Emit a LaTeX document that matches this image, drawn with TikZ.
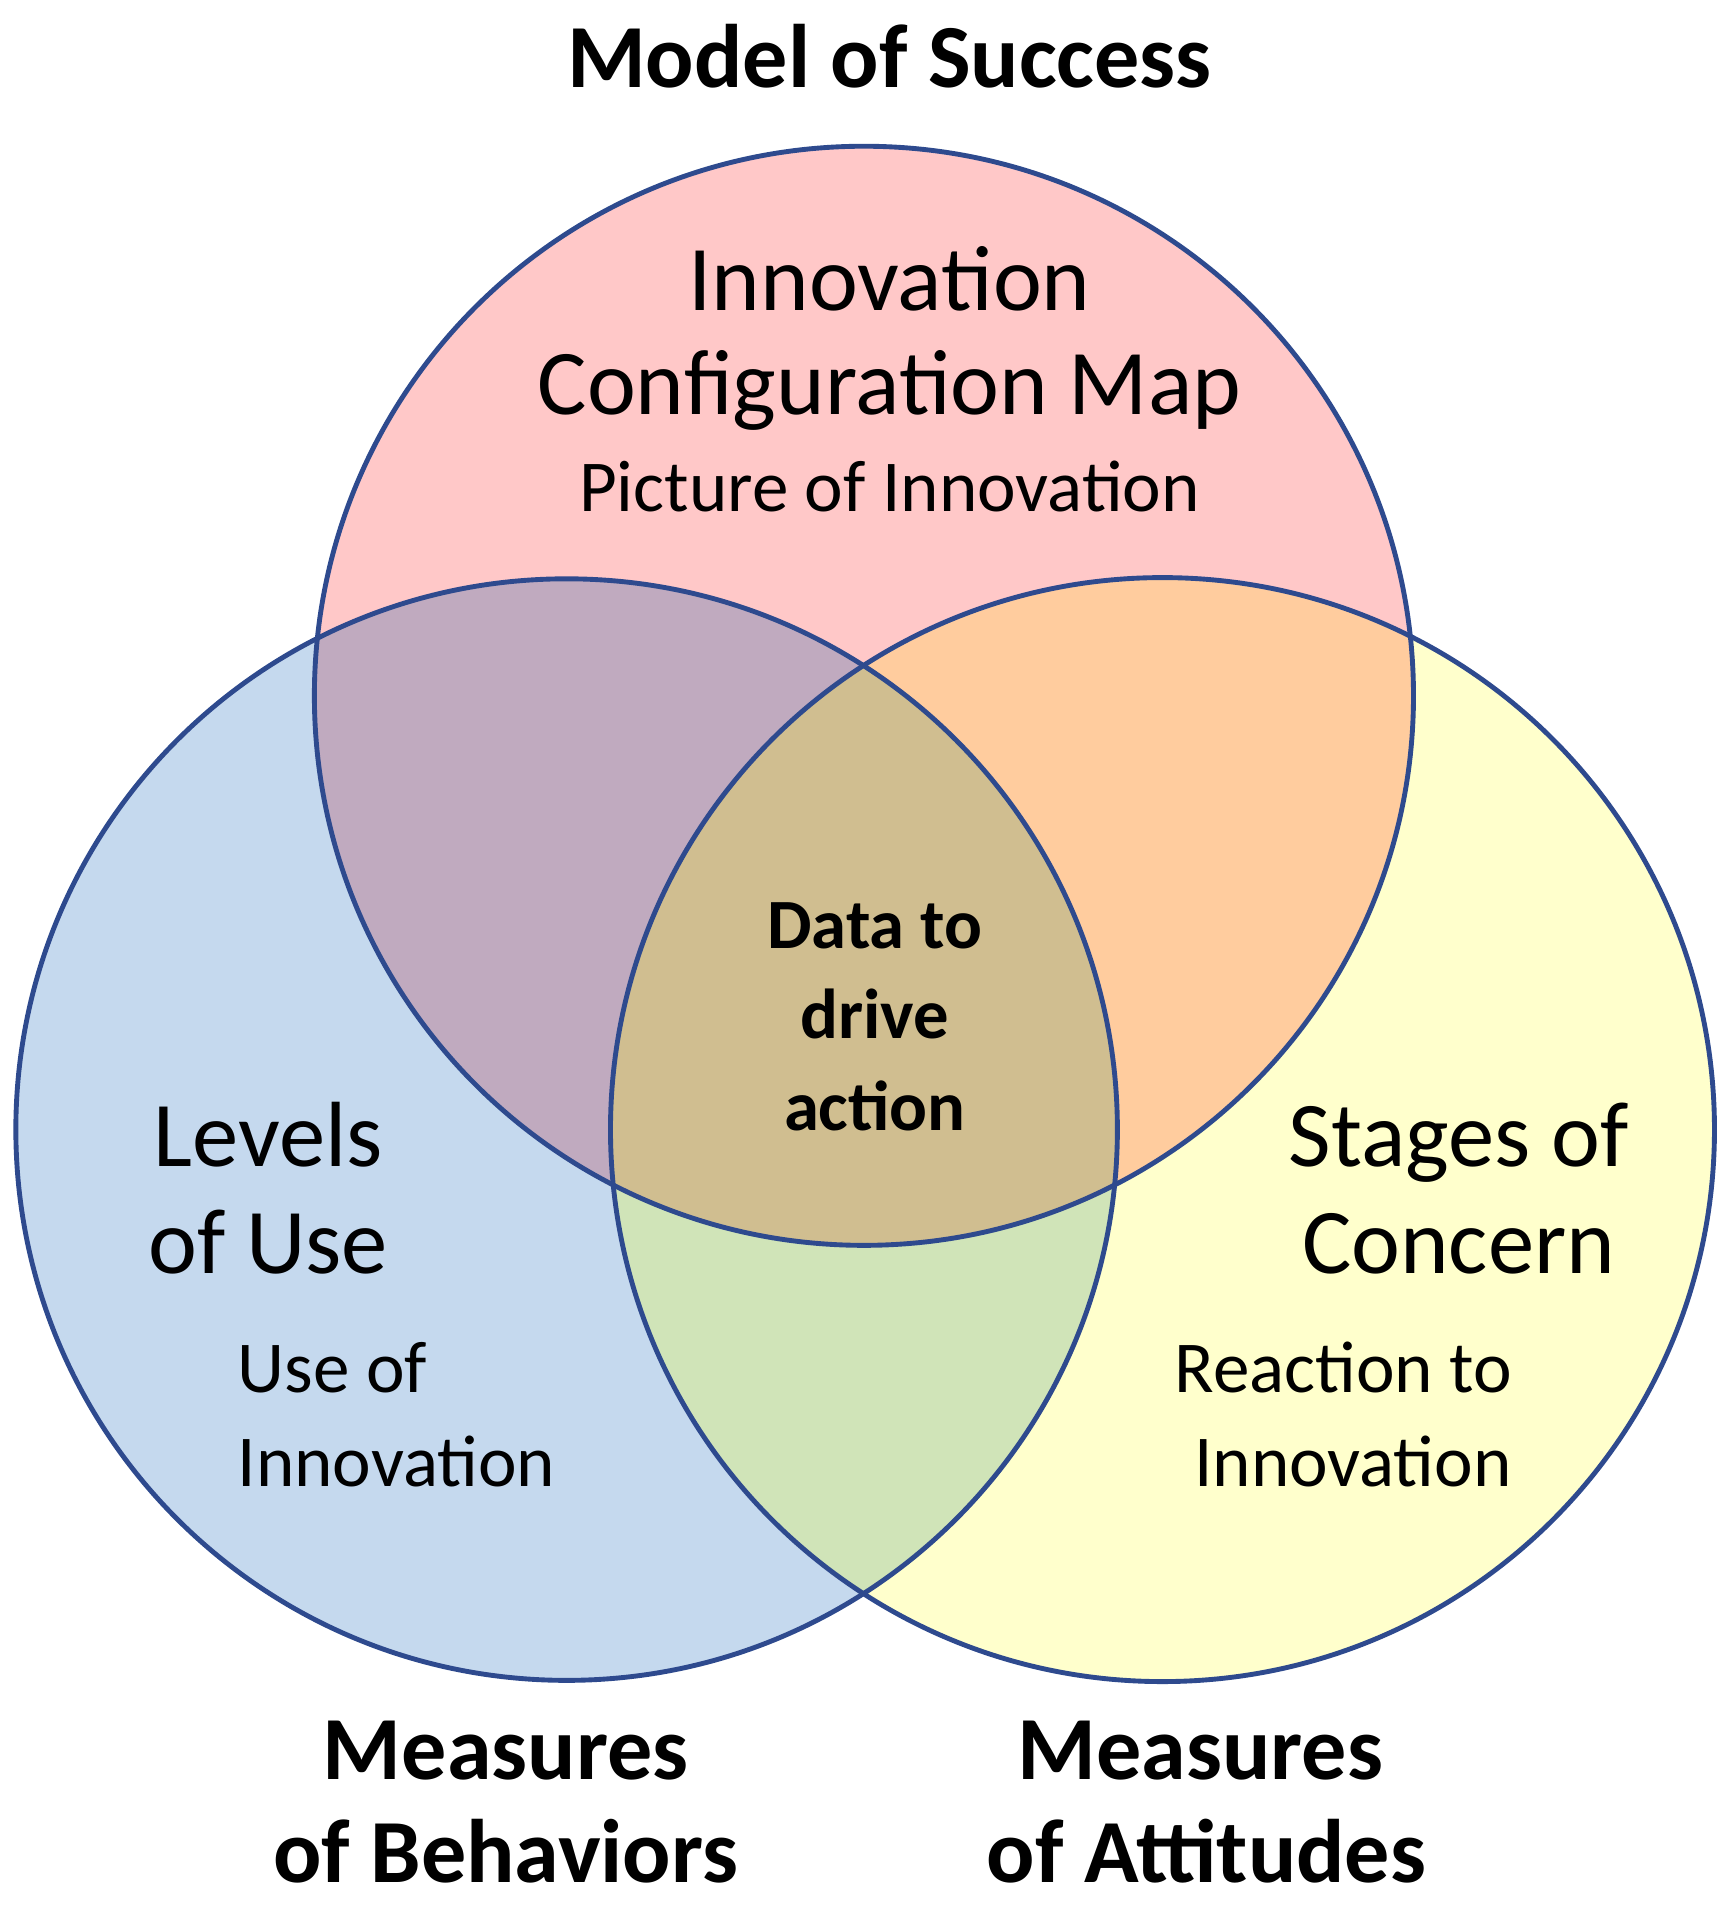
\documentclass[tikz,border=0pt]{standalone}
\usepackage{fontspec}
\setmainfont{Carlito}
\definecolor{cpink}{HTML}{FFC8C8}
\definecolor{cblue}{HTML}{C5D9EE}
\definecolor{cyel}{HTML}{FFFFCC}
\definecolor{cpur}{HTML}{C0AABF}
\definecolor{corg}{HTML}{FFCC9E}
\definecolor{cgrn}{HTML}{D0E4B8}
\definecolor{ccen}{HTML}{D0BE90}
\definecolor{cline}{HTML}{2E4A8E}
\tikzset{
 big/.style={font=\fontsize{38}{44}\selectfont, anchor=base},
 mid/.style={font=\fontsize{30}{36}\selectfont, anchor=base},
 ttl/.style={font=\fontsize{37}{42}\selectfont\bfseries, anchor=base},
 cen/.style={font=\fontsize{29}{34}\selectfont\bfseries, anchor=base},
 ring/.style={draw=cline, line width=2pt}
}
\begin{document}
\begin{tikzpicture}[x=0.5pt,y=-0.5pt]
\useasboundingbox[fill=white] (0,0) rectangle (1420,1565);
\def\T{(709,571) circle[radius=451]}
\def\L{(465,927) circle[radius=452]}
\def\R{(954,927) circle[radius=453]}
\fill[cpink] \T; \fill[cblue] \L; \fill[cyel] \R;
\begin{scope}\clip \T; \fill[cpur] \L; \fill[corg] \R; \end{scope}
\begin{scope}\clip \L; \fill[cgrn] \R; \end{scope}
\begin{scope}\clip \T; \clip \L; \fill[ccen] \R; \end{scope}
\draw[ring] \T; \draw[ring] \L; \draw[ring] \R;
\node[ttl] (t0) at (730,72) {Model of Success};
\node[big] (t1) at (730,255) {Innovation};
\node[big] (t2) at (730,340) {Configuration Map};
\node[mid] (t3) at (730,420) {Picture of Innovation};
\node[cen] (c1) at (718,778) {Data to};
\node[cen] (c2) at (718,852) {drive};
\node[cen] (c3) at (718,928) {action};
\node[big] (l1) at (220,957) {Levels};
\node[big] (l2) at (220,1045) {of Use};
\node[mid,anchor=base west] (l3) at (188,1143) {Use of};
\node[mid,anchor=base west] (l4) at (188,1220) {Innovation};
\node[big] (r1) at (1197,957) {Stages of};
\node[big] (r2) at (1197,1045) {Concern};
\node[mid,anchor=base west] (r3) at (957,1143) {Reaction to};
\node[mid,anchor=base west] (r4) at (973,1220) {Innovation};
\node[ttl] (b1) at (415,1460) {Measures};
\node[ttl] (b2) at (415,1545) {of Behaviors};
\node[ttl] (a1) at (985,1460) {Measures};
\node[ttl] (a2) at (990,1545) {of Attitudes};
\end{tikzpicture}
\end{document}
